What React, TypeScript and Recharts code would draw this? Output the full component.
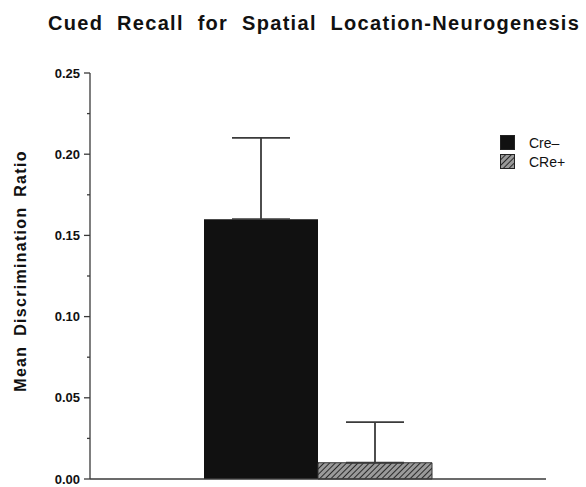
import React from 'react'
import { BarChart, Bar, XAxis, YAxis, ErrorBar } from 'recharts'

const groups = ['']
const creMinus = [0.16]
const crePlus = [0.01]
// upper error only
const creMinusErr = [0.05]
const crePlusErr = [0.025]
const yTicks = [0, 0.025, 0.05, 0.075, 0.1, 0.125, 0.15, 0.175, 0.2, 0.225, 0.25]
const majorTicks = [0, 0.05, 0.1, 0.15, 0.2, 0.25]

const data = groups.map((g, i) => ({
  name: g,
  creMinus: creMinus[i],
  crePlus: crePlus[i],
  creMinusErr: [0, creMinusErr[i]],
  crePlusErr: [0, crePlusErr[i]],
}))

const FONT = 'Liberation Sans, Arial, Helvetica, sans-serif'
const INK = '#3a3a3a'

function YTick(props: any) {
  const { x, y, payload } = props
  const v = payload.value
  const major = majorTicks.some((m) => Math.abs(m - v) < 1e-6)
  return (
    <g>
      <line x1={x - (major ? 6 : 3)} x2={x} y1={y} y2={y} stroke={INK} strokeWidth={1.3} />
      {major && (
        <text
          x={x - 10}
          y={y}
          textAnchor="end"
          dominantBaseline="central"
          fontFamily={FONT}
          fontWeight="bold"
          fontSize={13}
          fill="#111"
        >
          {v.toFixed(2)}
        </text>
      )}
    </g>
  )
}

function YLabel(props: any) {
  const { viewBox } = props
  const cx = viewBox.x + 8
  const cy = viewBox.y + viewBox.height / 2 - 5
  return (
    <text
      transform={`translate(${cx}, ${cy}) rotate(-90)`}
      textAnchor="middle"
      dominantBaseline="central"
      fontFamily={FONT}
      fontWeight="bold"
      fontSize={16}
      letterSpacing={1.3}
      wordSpacing={4}
      fill="#111"
    >
      Mean Discrimination Ratio
    </text>
  )
}

function LegendBox() {
  const items = [
    { label: 'Cre\u2013', fill: '#111' },
    { label: 'CRe+', fill: 'url(#hatch)' },
  ]
  return (
    <div style={{ position: 'absolute', left: 500, top: 133, fontFamily: FONT, fontSize: 14 }}>
      {items.map((it) => (
        <div key={it.label} style={{ display: 'flex', alignItems: 'center', height: 19 }}>
          <svg width={15} height={15} style={{ display: 'block' }}>
            <rect x={0.5} y={0.5} width={14} height={14} fill={it.fill} stroke="#222" />
          </svg>
          <span style={{ marginLeft: 14, color: '#111' }}>{it.label}</span>
        </div>
      ))}
    </div>
  )
}

export default function App() {
  return (
    <div style={{ position: 'absolute', left: 0, top: 0, width: 586, height: 487, background: '#fff' }}>
      <div
        style={{
          position: 'absolute',
          left: 48,
          top: 12,
          fontFamily: FONT,
          fontWeight: 'bold',
          fontSize: 20,
          letterSpacing: 1.3,
          wordSpacing: 7,
          color: '#111',
          whiteSpace: 'nowrap',
        }}
      >
        Cued Recall for Spatial Location-Neurogenesis
      </div>
      <BarChart
        width={586}
        height={487}
        data={data}
        margin={{ top: 73, right: 40, bottom: 0, left: 12 }}
        barCategoryGap="25%"
        barGap={0}
      >
        <defs>
          <pattern id="hatch" width="4" height="4" patternUnits="userSpaceOnUse" patternTransform="rotate(45)">
            <rect width="4" height="4" fill="#9a9a9a" />
            <line x1="0" y1="0" x2="0" y2="4" stroke="#2a2a2a" strokeWidth="2" />
          </pattern>
        </defs>
        <XAxis
          dataKey="name"
          height={8}
          tick={false}
          tickLine={false}
          axisLine={{ stroke: INK, strokeWidth: 1.3 }}
        />
        <YAxis
          width={78}
          domain={[0, 0.25]}
          ticks={yTicks}
          interval={0}
          tickSize={0}
          tickMargin={0}
          tickLine={false}
          tick={<YTick />}
          axisLine={{ stroke: INK, strokeWidth: 1.3 }}
          label={{ content: <YLabel /> }}
        />
        <Bar dataKey="creMinus" fill="#111" isAnimationActive={false}>
          <ErrorBar dataKey="creMinusErr" width={29} stroke={INK} strokeWidth={1.8} direction="y" />
        </Bar>
        <Bar dataKey="crePlus" fill="url(#hatch)" stroke="#333" strokeWidth={1} isAnimationActive={false}>
          <ErrorBar dataKey="crePlusErr" width={29} stroke={INK} strokeWidth={1.8} direction="y" />
        </Bar>
      </BarChart>
      <LegendBox />
    </div>
  )
}
